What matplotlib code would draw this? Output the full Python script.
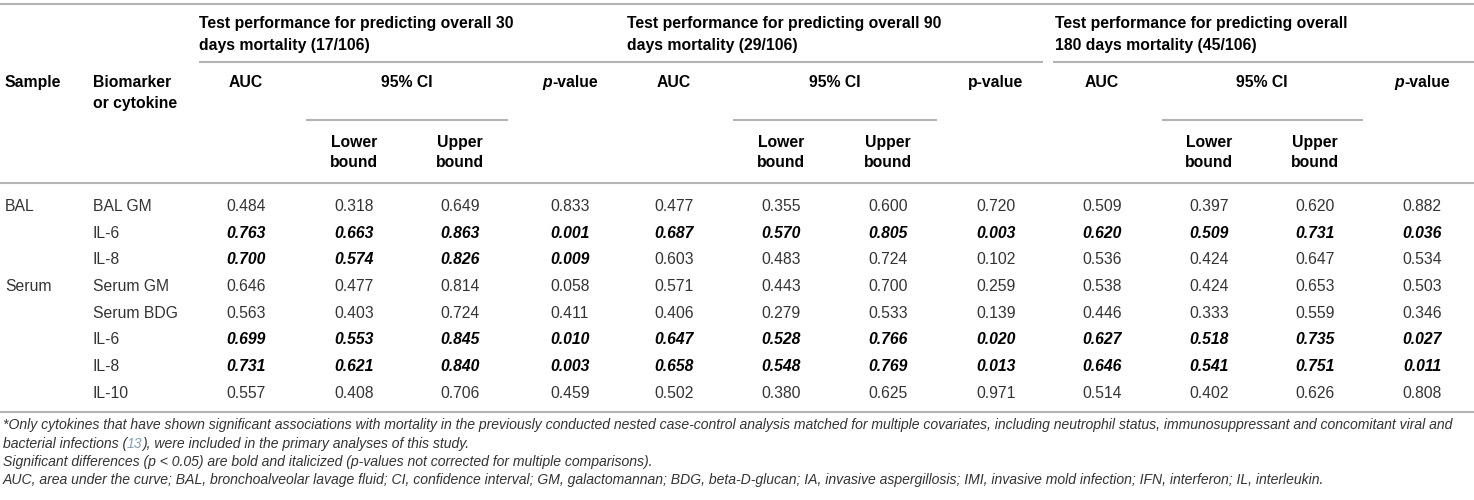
import matplotlib
matplotlib.use("Agg")
import matplotlib.pyplot as plt

# table data
samples = ["BAL", "", "", "Serum", "", "", "", ""]
markers = ["BAL GM", "IL-6", "IL-8", "Serum GM", "Serum BDG", "IL-6", "IL-8", "IL-10"]

auc30 = [0.484, 0.763, 0.700, 0.646, 0.563, 0.699, 0.731, 0.557]
lo30 = [0.318, 0.663, 0.574, 0.477, 0.403, 0.553, 0.621, 0.408]
up30 = [0.649, 0.863, 0.826, 0.814, 0.724, 0.845, 0.840, 0.706]
p30 = [0.833, 0.001, 0.009, 0.058, 0.411, 0.010, 0.003, 0.459]

auc90 = [0.477, 0.687, 0.603, 0.571, 0.406, 0.647, 0.658, 0.502]
lo90 = [0.355, 0.570, 0.483, 0.443, 0.279, 0.528, 0.548, 0.380]
up90 = [0.600, 0.805, 0.724, 0.700, 0.533, 0.766, 0.769, 0.625]
p90 = [0.720, 0.003, 0.102, 0.259, 0.139, 0.020, 0.013, 0.971]

auc180 = [0.509, 0.620, 0.536, 0.538, 0.446, 0.627, 0.646, 0.514]
lo180 = [0.397, 0.509, 0.424, 0.424, 0.333, 0.518, 0.541, 0.402]
up180 = [0.620, 0.731, 0.647, 0.653, 0.559, 0.735, 0.751, 0.626]
p180 = [0.882, 0.036, 0.534, 0.503, 0.346, 0.027, 0.011, 0.808]

group_titles = [
    ["Test performance for predicting overall 30", "days mortality (17/106)"],
    ["Test performance for predicting overall 90", "days mortality (29/106)"],
    ["Test performance for predicting overall", "180 days mortality (45/106)"],
]

FONT = "Liberation Sans"
BODY = "#333333"
LINE = "#b4b4b4"
FS = 11.3

W, H = 1474, 500
fig = plt.figure(figsize=(W / 100, H / 100), dpi=100)
ax = fig.add_axes([0, 0, 1, 1])
ax.set_xlim(0, W)
ax.set_ylim(H, 0)
ax.axis("off")
renderer = fig.canvas.get_renderer()


def hline(x0, x1, y):
    ax.plot([x0, x1], [y, y], color=LINE, lw=1.5, solid_capstyle="butt")


def chain(x, y, parts, ha="left", size=FS, color="black"):
    # parts: list of (text, weight, style, color or None)
    arts = []
    widths = []
    for txt, weight, style, col in parts:
        t = ax.text(0, y, txt, fontsize=size, fontweight=weight, fontstyle=style,
                    color=col or color, family=FONT, va="baseline", ha="left")
        widths.append(t.get_window_extent(renderer).width)
        arts.append(t)
    total = sum(widths)
    start = x - total / 2 if ha == "center" else x
    for t, w in zip(arts, widths):
        t.set_x(start)
        start += w


# rules
hline(0, W, 4)
hline(199, 1043, 62)
hline(1053, W, 62)
hline(306, 508, 120)
hline(733, 937, 120)
hline(1162, 1363, 120)
hline(0, W, 183)
hline(0, W, 412)

# column positions
x_sample, x_marker = 5, 93
group_x = [[246, 354, 460, 570], [674, 781, 888, 996], [1102, 1209, 1315, 1422]]
title_x = [199, 627, 1055]
ci_mid = [407, 835, 1262]

hd = dict(fontsize=FS, fontweight="bold", family=FONT, va="baseline", color="black")
ax.text(x_sample, 87, "Sample", ha="left", **hd)
ax.text(x_marker, 87, "Biomarker", ha="left", **hd)
ax.text(x_marker, 108, "or cytokine", ha="left", **hd)

for g in range(3):
    ax.text(title_x[g], 28, group_titles[g][0], ha="left", **hd)
    ax.text(title_x[g], 50, group_titles[g][1], ha="left", **hd)
    cx = group_x[g]
    ax.text(cx[0], 87, "AUC", ha="center", **hd)
    ax.text(ci_mid[g], 87, "95% CI", ha="center", **hd)
    if g == 1:
        ax.text(cx[3], 87, "p-value", ha="center", **hd)
    else:
        chain(cx[3], 87, [("p", "bold", "italic", None), ("-value", "bold", "normal", None)],
              ha="center")
    for xx, word in [(cx[1], "Lower"), (cx[2], "Upper")]:
        ax.text(xx, 147, word, ha="center", **hd)
        ax.text(xx, 167, "bound", ha="center", **hd)

# body rows
row_y = [211, 237.7, 264.4, 291, 317.8, 344.5, 371, 398]
groups = [(auc30, lo30, up30, p30), (auc90, lo90, up90, p90), (auc180, lo180, up180, p180)]
for i, y in enumerate(row_y):
    ax.text(x_sample, y, samples[i], fontsize=FS, family=FONT, color=BODY,
            va="baseline", ha="left")
    ax.text(x_marker, y, markers[i], fontsize=FS, family=FONT, color=BODY,
            va="baseline", ha="left")
    for g, cols in enumerate(groups):
        sig = cols[3][i] < 0.05
        for c, vals in enumerate(cols):
            ax.text(group_x[g][c], y, f"{vals[i]:.3f}", fontsize=FS, family=FONT,
                    ha="center", va="baseline",
                    color="black" if sig else BODY,
                    fontweight="bold" if sig else "normal",
                    fontstyle="italic" if sig else "normal")

# footnotes
fs = 10.08
ax.text(3, 429, "*Only cytokines that have shown significant associations with mortality in the "
        "previously conducted nested case-control analysis matched for multiple covariates, "
        "including neutrophil status, immunosuppressant and concomitant viral and",
        fontsize=fs, family=FONT, style="italic", color=BODY, va="baseline")
chain(3, 448, [("bacterial infections (", "normal", "italic", None),
               ("13", "normal", "italic", "#7d9cc4"),
               ("), were included in the primary analyses of this study.", "normal", "italic", None)],
      size=fs, color=BODY)
ax.text(3, 466, "Significant differences (p < 0.05) are bold and italicized (p-values not "
        "corrected for multiple comparisons).",
        fontsize=fs, family=FONT, style="italic", color=BODY, va="baseline")
ax.text(3, 484, "AUC, area under the curve; BAL, bronchoalveolar lavage fluid; CI, confidence "
        "interval; GM, galactomannan; BDG, beta-D-glucan; IA, invasive aspergillosis; IMI, "
        "invasive mold infection; IFN, interferon; IL, interleukin.",
        fontsize=fs, family=FONT, style="italic", color=BODY, va="baseline")

fig.savefig("out.png", dpi=100)
